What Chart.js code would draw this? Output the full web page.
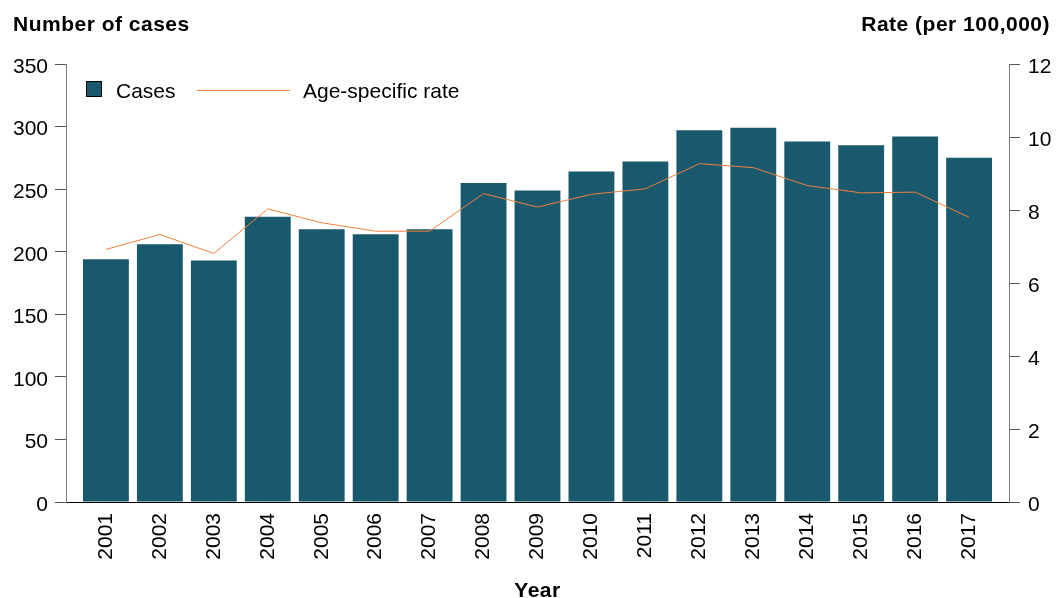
<!DOCTYPE html>
<html>
<head>
<meta charset="utf-8">
<script src="https://cdn.jsdelivr.net/npm/chart.js@4.4.1/dist/chart.umd.min.js"></script>
<style>
    html, body { margin: 0; padding: 0; background: #fff; }
    #wrap { position: relative; width: 1064px; height: 598px; }
</style>
</head>
<body>
<div id="wrap"><canvas id="chart" width="1064" height="598"></canvas></div>
<script>
// Data
const years = ['2001', '2002', '2003', '2004', '2005', '2006', '2007', '2008', '2009',
    '2010', '2011', '2012', '2013', '2014', '2015', '2016', '2017'];
const cases = [194, 206, 193, 228, 218, 214, 218, 255, 249, 264, 272, 297, 299, 288, 285, 292, 275];
const rates = [6.92, 7.33, 6.81, 8.03, 7.65, 7.42, 7.42, 8.45, 8.08, 8.43, 8.58, 9.27, 9.16, 8.67, 8.47, 8.49, 7.80];
const leftTicks = [0, 50, 100, 150, 200, 250, 300, 350];
const rightTicks = [0, 2, 4, 6, 8, 10, 12];

const barColor = '#18596e';
const lineColor = '#f0803c';
const fontFamily = '"Liberation Sans", Arial, sans-serif';

// Titles and legend drawn on top of the chart
const decorPlugin = {
    id: 'decor',
    afterDraw(chart) {
        const ctx = chart.ctx;
        const area = chart.chartArea;
        ctx.save();
        ctx.fillStyle = '#000';
        ctx.font = 'bold 21px ' + fontFamily;
        ctx.letterSpacing = '0.5px';
        ctx.textBaseline = 'middle';
        ctx.textAlign = 'left';
        ctx.fillText('Number of cases', 13, 25);
        ctx.textAlign = 'right';
        ctx.fillText('Rate (per 100,000)', 1050, 25);
        ctx.textAlign = 'center';
        ctx.fillText('Year', (area.left + area.right) / 2, 591);
        ctx.letterSpacing = '0px';

        // legend
        ctx.font = '21px ' + fontFamily;
        ctx.textAlign = 'left';
        ctx.fillStyle = barColor;
        ctx.fillRect(86, 81, 16, 16);
        ctx.strokeStyle = '#000';
        ctx.lineWidth = 1;
        ctx.strokeRect(86.5, 81.5, 15, 15);
        ctx.fillStyle = '#000';
        ctx.fillText(chart.data.datasets[1].label, 116, 92);
        ctx.strokeStyle = lineColor;
        ctx.beginPath();
        ctx.moveTo(197, 90.5);
        ctx.lineTo(290, 90.5);
        ctx.stroke();
        ctx.fillText(chart.data.datasets[0].label, 303, 92);
        ctx.restore();
    }
};

const ctx = document.getElementById('chart').getContext('2d');
const chart = new Chart(ctx, {
    type: 'bar',
    data: {
        datasets: [{
            type: 'line',
            label: 'Age-specific rate',
            data: rates.map((r, i) => ({ x: i + 1, y: r })),
            borderColor: lineColor,
            borderWidth: 1,
            pointRadius: 0,
            tension: 0,
            yAxisID: 'y2',
            order: 0
        }, {
            type: 'bar',
            label: 'Cases',
            data: cases.map((c, i) => ({ x: i + 1, y: c })),
            backgroundColor: barColor,
            borderWidth: 0,
            categoryPercentage: 1,
            barPercentage: 0.85,
            yAxisID: 'y',
            order: 1
        }]
    },
    options: {
        responsive: false,
        animation: false,
        layout: { padding: { top: 64, left: 0, right: 0, bottom: 0 } },
        plugins: {
            legend: { display: false },
            tooltip: { enabled: false },
            title: { display: false }
        },
        scales: {
            x: {
                type: 'linear',
                offset: false,
                min: 0.26,
                max: 17.74,
                afterBuildTicks: function (scale) {
                    scale.ticks = years.map((y, i) => ({ value: i + 1 }));
                },
                afterFit: function (scale) { scale.height = 96; },
                grid: { display: false, drawTicks: false, offset: false },
                border: { display: true, color: '#000', width: 1 },
                ticks: {
                    autoSkip: false,
                    minRotation: 90,
                    maxRotation: 90,
                    padding: 11,
                    color: '#000',
                    font: { family: fontFamily, size: 21 },
                    callback: function (value) { return years[Math.round(value) - 1]; }
                }
            },
            y: {
                position: 'left',
                min: 0,
                max: 350,
                afterBuildTicks: function (scale) {
                    scale.ticks = leftTicks.map(v => ({ value: v }));
                },
                afterFit: function (scale) { scale.width = 66; },
                grid: { drawOnChartArea: false, drawTicks: true, tickLength: 11, color: '#555' },
                border: { display: true, color: '#808080', width: 1 },
                ticks: {
                    padding: 7,
                    labelOffset: 3,
                    color: '#000',
                    font: { family: fontFamily, size: 21 }
                }
            },
            y2: {
                position: 'right',
                min: 0,
                max: 12,
                afterBuildTicks: function (scale) {
                    scale.ticks = rightTicks.map(v => ({ value: v }));
                },
                afterFit: function (scale) { scale.width = 55; },
                grid: { drawOnChartArea: false, drawTicks: true, tickLength: 11, color: '#555' },
                border: { display: true, color: '#808080', width: 1 },
                ticks: {
                    padding: 8,
                    labelOffset: 3,
                    color: '#000',
                    font: { family: fontFamily, size: 21 }
                }
            }
        }
    },
    plugins: [decorPlugin]
});
</script>
</body>
</html>
